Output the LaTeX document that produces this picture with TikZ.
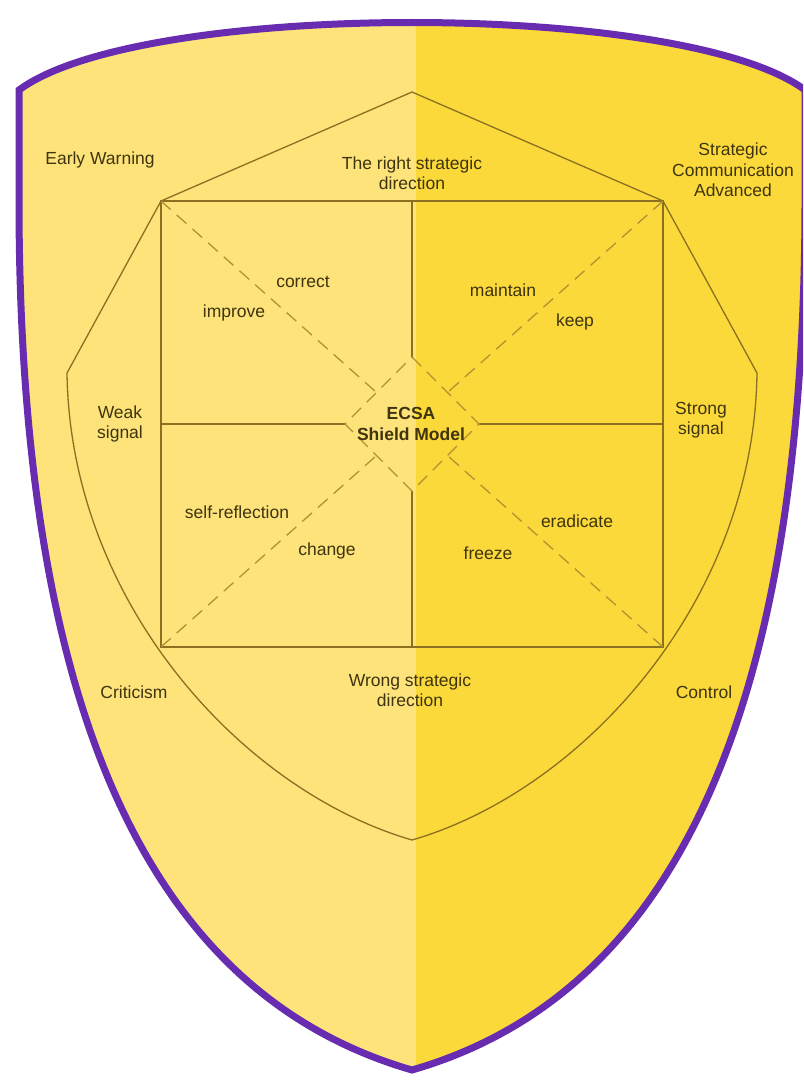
\documentclass[tikz,border=0pt]{standalone}
\usepackage{fontspec}
\setmainfont{Liberation Sans}
\usetikzlibrary{calc}
\definecolor{shieldL}{RGB}{253,227,122}
\definecolor{shieldR}{RGB}{252,217,58}
\definecolor{rim}{RGB}{104,44,176}
\definecolor{lncol}{RGB}{138,112,32}
\definecolor{dcol}{RGB}{176,146,50}
\definecolor{txt}{RGB}{62,52,14}
\tikzset{
  lbl/.style={font=\fontsize{17.5}{20.5}\selectfont, text=txt, align=center, inner sep=0pt},
  bold lbl/.style={lbl, font=\fontsize{17.5}{21}\selectfont\bfseries},
  outline/.style={draw=lncol, line width=1.3pt, line join=miter},
  dashline/.style={draw=dcol, line width=1.3pt, dash pattern=on 13pt off 8pt}
}
\begin{document}
\begin{tikzpicture}[x=1pt,y=-1pt]
\useasboundingbox (0,0) rectangle (803,1081);
\clip (0,0) rectangle (803,1081);
% shield
\def\shieldpath{(19,90) .. controls (140,0) and (684,0) .. (805,90) -- (805,200)
   .. controls (805,750) and (654,1000) .. (412,1070)
   .. controls (170,1000) and (19,750) .. (19,200) -- cycle}
\begin{scope}
  \clip \shieldpath;
  \fill[shieldL] (0,0) rectangle (416,1081);
  \fill[shieldR] (416,0) rectangle (803,1081);
\end{scope}
\draw[rim, line width=7pt, line join=miter] \shieldpath;
% coordinates
\coordinate (T) at (412,92);
\coordinate (UL) at (161,201);
\coordinate (UR) at (663,201);
\coordinate (L) at (67,373);
\coordinate (R) at (757,373);
\coordinate (LL) at (161,647);
\coordinate (LR) at (663,647);
\coordinate (B) at (412,840);
\coordinate (C) at (412,424);
\coordinate (DT) at (412,357);
\coordinate (DR) at (479,424);
\coordinate (DB) at (412,491);
\coordinate (DL) at (345,424);
\coordinate (MT) at (412,201);
\coordinate (MB) at (412,647);
\coordinate (ML) at (161,424);
\coordinate (MR) at (663,424);
% inner outline
\draw[outline] (L) -- (UL) -- (T) -- (UR) -- (R)
   .. controls (754,600) and (584,790) .. (B)
   .. controls (240,790) and (70,600) .. (L);
\draw[outline] (UL) rectangle (LR);
\draw[outline] (MT) -- (DT);
\draw[outline] (DB) -- (MB);
\draw[outline] (ML) -- (DL);
\draw[outline] (DR) -- (MR);
% dashed
\draw[dashline] (DT) -- (DR) -- (DB) -- (DL) -- cycle;
\draw[dashline] (UL) -- ($(C)!0.1414!(UL)$);
\draw[dashline] (UR) -- ($(C)!0.1414!(UR)$);
\draw[dashline] (LL) -- ($(C)!0.1414!(LL)$);
\draw[dashline] (LR) -- ($(C)!0.1414!(LR)$);
% labels
\node[lbl] (ew) at (100,160) {Early Warning};
\node[lbl] (trd) at (412,173) {The right strategic\\direction};
\node[lbl] (sca) at (733,170) {Strategic\\Communication\\Advanced};
\node[lbl] (correct) at (303,282) {correct};
\node[lbl] (improve) at (234,313) {improve};
\node[lbl] (maintain) at (503,290) {maintain};
\node[lbl] (keep) at (575,322) {keep};
\node[lbl] (weak) at (120,424) {Weak\\signal};
\node[bold lbl] (ecsa) at (411,424) {ECSA\\Shield Model};
\node[lbl] (strong) at (701,420) {Strong\\signal};
\node[lbl] (selfr) at (237,512) {self-reflection};
\node[lbl] (change) at (327,551) {change};
\node[lbl] (eradicate) at (577,521) {eradicate};
\node[lbl] (freeze) at (488,553) {freeze};
\node[lbl] (crit) at (134,692) {Criticism};
\node[lbl] (wrong) at (410,690) {Wrong strategic\\direction};
\node[lbl] (control) at (704,692) {Control};
\end{tikzpicture}
\end{document}
